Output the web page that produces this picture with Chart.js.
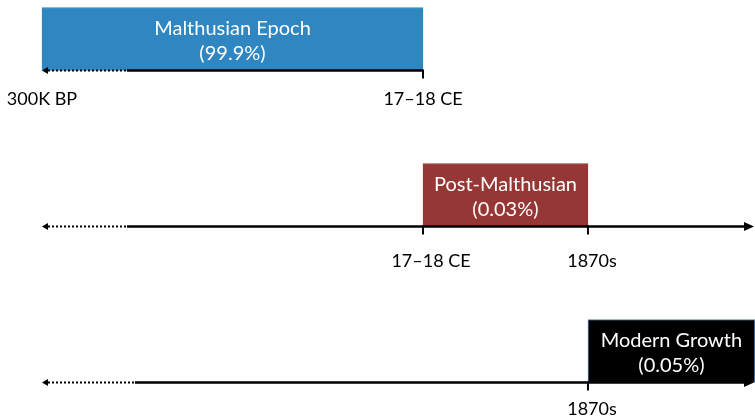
<!DOCTYPE html>
<html>
<head>
<meta charset="utf-8">
<script src="https://cdn.jsdelivr.net/npm/chart.js@4/dist/chart.umd.min.js"></script>
<style>
  html, body { margin: 0; padding: 0; background: #ffffff; }
  #wrap { width: 755px; height: 420px; }
</style>
</head>
<body>
<div id="wrap"><canvas id="chart" width="755" height="420"></canvas></div>
<script>
// Epochs of human history on a schematic timeline (units: 100 = end of the Malthusian era)
const epochs = ['Malthusian Epoch', 'Post-Malthusian', 'Modern Growth'];
const shareOfHistory = [99.9, 0.03, 0.05];          // % of human history
const epochStart = [0, 100, 143.3];
const epochEnd = [100, 143.3, 187.1];
// boundary markers shown under each timeline
const boundaryLabels = [['300K BP', '17–18 CE'], ['17–18 CE', '1870s'], ['1870s']];
const boundaryValues = [[0, 100], [100, 143.3], [143.3]];

const FONT = 'Lato, "Open Sans", sans-serif';

// Timeline arrows, boundary ticks and texts
const timelinePlugin = {
  id: 'timeline',
  afterDatasetsDraw(chart, args, opts) {
    const ctx = chart.ctx;
    const xs = chart.scales.x;
    const area = chart.chartArea;
    const meta = chart.getDatasetMeta(0);
    ctx.save();
    meta.data.forEach((bar, i) => {
      const p = bar.getProps(['x', 'y', 'base', 'height'], true);
      const top = p.y - p.height / 2;
      const axisY = p.y + p.height / 2;
      const xStart = xs.getPixelForValue(epochStart[0]);
      const xDotEnd = xs.getPixelForValue(opts.dottedUntil[i]);
      const openEnded = i > 0;
      const xEnd = openEnded ? area.right - 1 : xs.getPixelForValue(epochEnd[i]);

      ctx.strokeStyle = '#000';
      ctx.fillStyle = '#000';

      // distant past: dotted segment with a small left arrowhead
      ctx.lineWidth = 2;
      ctx.setLineDash([2, 2]);
      ctx.beginPath();
      ctx.moveTo(xStart + 6, axisY);
      ctx.lineTo(xDotEnd, axisY);
      ctx.stroke();
      ctx.setLineDash([]);
      ctx.beginPath();
      ctx.moveTo(xStart, axisY);
      ctx.lineTo(xStart + 6, axisY - 3.5);
      ctx.lineTo(xStart + 6, axisY + 3.5);
      ctx.closePath();
      ctx.fill();

      // solid timeline
      ctx.lineWidth = 2.5;
      ctx.beginPath();
      ctx.moveTo(xDotEnd, axisY);
      ctx.lineTo(openEnded ? xEnd - 8 : xEnd, axisY);
      ctx.stroke();
      if (openEnded) {
        ctx.beginPath();
        ctx.moveTo(xEnd, axisY);
        ctx.lineTo(xEnd - 10, axisY - 4.5);
        ctx.lineTo(xEnd - 10, axisY + 4.5);
        ctx.closePath();
        ctx.fill();
      }

      // boundary ticks and labels
      ctx.font = '18px ' + FONT;
      ctx.textAlign = 'center';
      ctx.textBaseline = 'middle';
      boundaryValues[i].forEach((v, k) => {
        const bx = xs.getPixelForValue(v);
        if (v !== epochStart[0]) {
          ctx.lineWidth = 2;
          ctx.beginPath();
          ctx.moveTo(bx, axisY - 1);
          ctx.lineTo(bx, axisY + 8);
          ctx.stroke();
        }
        ctx.fillText(boundaryLabels[i][k], bx + opts.labelShift[i][k], axisY + opts.labelOffset[i]);
      });

      // epoch name and share inside the box
      const boxRight = Math.min(p.x, area.right);
      const cx = (p.base + boxRight) / 2;
      ctx.fillStyle = '#ffffff';
      ctx.font = '20px ' + FONT;
      ctx.fillText(epochs[i], cx, top + 21);
      ctx.fillText('(' + shareOfHistory[i] + '%)', cx, top + 46);
    });
    ctx.restore();
  }
};

new Chart(document.getElementById('chart'), {
  type: 'bar',
  data: {
    labels: epochs,
    datasets: [{
      data: epochs.map((_, i) => [epochStart[i], epochEnd[i]]),
      backgroundColor: ['#2f86c0', '#953735', '#000000'],
      borderColor: ['#2f86c0', '#953735', '#4f81bd'],
      borderWidth: 1,
      borderSkipped: false,
      barThickness: 63,
      clip: false
    }]
  },
  options: {
    indexAxis: 'y',
    responsive: false,
    animation: false,
    devicePixelRatio: 1,
    layout: { padding: { top: 39, bottom: 69, left: 0, right: 0 } },
    scales: {
      x: { type: 'linear', min: -11.02, max: 187.14, display: false },
      y: { type: 'category', offset: false, display: false }
    },
    plugins: {
      legend: { display: false },
      tooltip: { enabled: false },
      timeline: {
        dottedUntil: [22.3, 22.3, 24.4],
        labelOffset: [29, 35, 27],
        labelShift: [[0, 0], [8, 4], [4]]
      }
    }
  },
  plugins: [timelinePlugin]
});
</script>
</body>
</html>
